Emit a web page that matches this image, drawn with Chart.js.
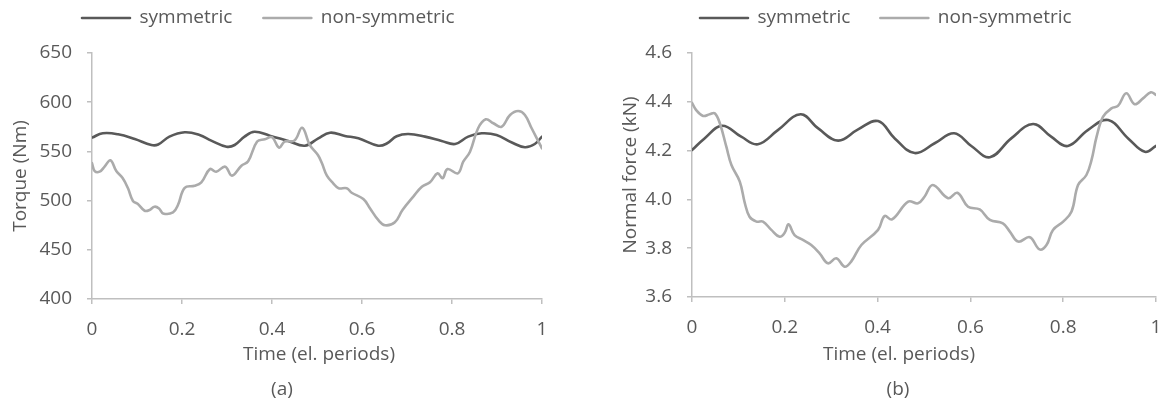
<!DOCTYPE html>
<html>
<head>
<meta charset="utf-8">
<script src="https://cdn.jsdelivr.net/npm/chart.js@4.4.1/dist/chart.umd.min.js"></script>
<style>
  html, body { margin: 0; padding: 0; background: #ffffff; }
  #figure { position: relative; width: 1163px; height: 403px; overflow: hidden; }
  #figure canvas { position: absolute; top: 0; }
  .cap {
    position: absolute; width: 240px; text-align: center;
    font-family: "Open Sans", sans-serif; font-size: 19px; line-height: 22px;
    color: #595959; white-space: nowrap;
  }
</style>
</head>
<body>
<div id="figure">
  <canvas id="torqueChart" width="580" height="403" style="left:0px"></canvas>
  <canvas id="forceChart" width="583" height="403" style="left:580px"></canvas>
  <div class="cap" style="left:199px; top:342px">Time (el. periods)</div>
  <div class="cap" style="left:162px; top:377px">(a)</div>
  <div class="cap" style="left:779px; top:342px">Time (el. periods)</div>
  <div class="cap" style="left:778px; top:377px">(b)</div>
</div>
<script>
// ---- tick values ----
const timeTicks = [0, 0.2, 0.4, 0.6, 0.8, 1];
const torqueTicks = [400, 450, 500, 550, 600, 650];
const forceTicks = [3.6, 3.8, 4.0, 4.2, 4.4, 4.6];
const seriesNames = ['symmetric', 'non-symmetric'];

// ---- torque, symmetric winding ----
const torqueSymT = [0, 0.024, 0.058, 0.095, 0.132, 0.147, 0.172, 0.206, 0.239, 0.265, 0.299, 0.317,
  0.339, 0.361, 0.395, 0.436, 0.473, 0.502, 0.529, 0.562, 0.592, 0.636, 0.655, 0.677, 0.703, 0.740,
  0.777, 0.807, 0.836, 0.866, 0.899, 0.933, 0.962, 0.984, 1.0];
const torqueSym = [564, 568.4, 567.4, 562.6, 556.5, 557, 565, 569.4, 566.7, 561, 554.8, 556.5,
  565, 570, 566, 560.6, 555.8, 563, 569, 565.7, 563.3, 555.8, 558, 565.4, 567.7, 565,
  560.6, 557.5, 565, 568.4, 566.7, 559, 554.2, 557.5, 565];

// ---- torque, non-symmetric winding ----
const torqueAsymT = [0, 0.006, 0.017, 0.028, 0.041, 0.054, 0.068, 0.080, 0.091, 0.102, 0.117, 0.128,
  0.139, 0.149, 0.158, 0.180, 0.191, 0.206, 0.228, 0.243, 0.262, 0.276, 0.296, 0.311, 0.332, 0.347,
  0.367, 0.384, 0.400, 0.416, 0.428, 0.450, 0.467, 0.484, 0.502, 0.511, 0.522, 0.536, 0.548, 0.566,
  0.577, 0.603, 0.618, 0.636, 0.651, 0.673, 0.690, 0.714, 0.733, 0.751, 0.768, 0.779, 0.790, 0.813,
  0.825, 0.840, 0.858, 0.875, 0.892, 0.910, 0.929, 0.947, 0.962, 0.977, 1.0];
const torqueAsym = [538, 530, 529.4, 534.5, 541, 530, 523, 512.5, 499.6, 496.5, 489.7, 490.5,
  493.8, 492, 487, 488, 495.5, 513, 515, 518.6, 532, 529.4, 534.5, 525.4, 535.5, 540,
  560, 562.3, 564.4, 553.8, 560, 561, 574, 556.5, 546.3, 538, 525.3, 517.6, 512.5, 512.5,
  508, 501.6, 492, 480.3, 475, 478, 490.4, 504, 514, 518.6, 527.7, 522.7, 532, 527.7,
  539.5, 549.7, 573.5, 582.6, 578.6, 575, 587, 591, 587, 573.5, 553];

// ---- normal force, symmetric winding ----
const forceSymT = [0, 0.027, 0.065, 0.106, 0.142, 0.185, 0.234, 0.272, 0.315, 0.358, 0.401, 0.437,
  0.480, 0.523, 0.565, 0.602, 0.642, 0.688, 0.735, 0.774, 0.810, 0.853, 0.897, 0.940, 0.976, 1.0];
const forceSym = [4.202, 4.250, 4.302, 4.257, 4.226, 4.284, 4.349, 4.291, 4.241, 4.287, 4.321, 4.250,
  4.190, 4.230, 4.271, 4.219, 4.173, 4.250, 4.309, 4.257, 4.219, 4.284, 4.325, 4.250, 4.195, 4.219];

// ---- normal force, non-symmetric winding ----
const forceAsymT = [0, 0.009, 0.024, 0.038, 0.049, 0.060, 0.074, 0.085, 0.103, 0.114, 0.124, 0.139,
  0.153, 0.171, 0.189, 0.200, 0.208, 0.221, 0.239, 0.257, 0.275, 0.293, 0.311, 0.329, 0.343, 0.365,
  0.401, 0.415, 0.431, 0.466, 0.487, 0.501, 0.519, 0.552, 0.572, 0.595, 0.620, 0.642, 0.670, 0.685,
  0.703, 0.728, 0.749, 0.764, 0.778, 0.800, 0.818, 0.832, 0.850, 0.861, 0.872, 0.886, 0.904, 0.918,
  0.936, 0.954, 0.972, 0.989, 1.0];
const forceAsym = [4.396, 4.366, 4.342, 4.349, 4.353, 4.312, 4.216, 4.141, 4.073, 3.984, 3.929, 3.909,
  3.909, 3.875, 3.847, 3.864, 3.898, 3.854, 3.834, 3.813, 3.779, 3.738, 3.759, 3.724, 3.745, 3.813,
  3.875, 3.932, 3.918, 3.991, 3.984, 4.011, 4.059, 4.005, 4.027, 3.970, 3.959, 3.916, 3.902, 3.868,
  3.827, 3.845, 3.795, 3.813, 3.875, 3.909, 3.950, 4.059, 4.100, 4.161, 4.257, 4.339, 4.373, 4.383,
  4.435, 4.390, 4.414, 4.439, 4.428];

// ---- styling ----
const FONT = { family: '"Open Sans", sans-serif', size: 19 };
const TEXT = '#595959';
const AXIS = '#BFBFBF';
const DARK = '#595959';
const LIGHT = '#ABABAB';

const toPoints = (xs, ys) => xs.map((x, i) => ({ x, y: ys[i] }));

// Places the legend row at a fixed spot above the plot.
const legendPlacer = {
  id: 'legendPlacer',
  afterLayout(chart, args, opts) {
    const lg = chart.legend;
    if (!lg) return;
    const dx = opts.x - opts.gap - lg.left;
    lg.left += dx; lg.right += dx;
    lg.top = opts.y - opts.fontSize / 2 - opts.gap;
    lg.bottom = opts.y + opts.fontSize + 10;
    lg.height = lg.bottom - lg.top;
  }
};

function lineDataset(label, pts, color, order) {
  return {
    label, data: pts, order,
    borderColor: color, backgroundColor: color,
    borderWidth: 2.6, pointRadius: 0, pointHoverRadius: 0,
    tension: 0.4, borderCapStyle: 'round', borderJoinStyle: 'round', fill: false
  };
}

function buildChart(id, cfg) {
  return new Chart(document.getElementById(id), {
    type: 'line',
    data: {
      datasets: [
        lineDataset(seriesNames[0], cfg.sym, DARK, 1),
        lineDataset(seriesNames[1], cfg.asym, LIGHT, 0)
      ]
    },
    options: {
      responsive: false,
      animation: false,
      events: [],
      layout: { padding: { left: 0, top: 13, right: cfg.padRight, bottom: 0 } },
      plugins: {
        tooltip: { enabled: false },
        legend: {
          display: true, position: 'top', align: 'start', maxHeight: 40,
          labels: {
            font: FONT, color: TEXT, boxWidth: 48, boxHeight: 0, padding: cfg.legendGap,
            sort: (a, b) => a.datasetIndex - b.datasetIndex
          }
        },
        legendPlacer: { x: cfg.legendX, y: 18, gap: cfg.legendGap, fontSize: FONT.size }
      },
      scales: {
        x: {
          type: 'linear', min: 0, max: 1,
          afterBuildTicks: s => { s.ticks = timeTicks.map(v => ({ value: v })); },
          afterFit: s => { s.height = cfg.xHeight; s.paddingLeft = 0; s.paddingRight = 0; },
          ticks: { font: FONT, color: TEXT, padding: 14, maxRotation: 0, callback: v => String(v) },
          grid: { display: true, drawOnChartArea: false, drawTicks: true, tickLength: 5, color: AXIS, lineWidth: 1.5 },
          border: { display: true, color: AXIS, width: 1.5 }
        },
        y: {
          type: 'linear', min: cfg.yTicks[0], max: cfg.yTicks[cfg.yTicks.length - 1],
          afterBuildTicks: s => { s.ticks = cfg.yTicks.map(v => ({ value: v })); },
          afterFit: s => { s.width = cfg.yWidth; },
          ticks: { font: FONT, color: TEXT, padding: 15, callback: cfg.yFmt },
          grid: { display: true, drawOnChartArea: false, drawTicks: true, tickLength: 5, color: AXIS, lineWidth: 1.5 },
          border: { display: true, color: AXIS, width: 1.5 },
          title: { display: true, text: cfg.yTitle, font: FONT, color: TEXT, padding: { top: cfg.yTitlePad, bottom: 0 } }
        }
      }
    },
    plugins: [legendPlacer]
  });
}

buildChart('torqueChart', {
  sym: toPoints(torqueSymT, torqueSym),
  asym: toPoints(torqueAsymT, torqueAsym),
  yTicks: torqueTicks, yFmt: v => String(v), yTitle: 'Torque (Nm)',
  yWidth: 92, yTitlePad: 9, xHeight: 104, padRight: 38,
  legendX: 82, legendGap: 31
});

buildChart('forceChart', {
  sym: toPoints(forceSymT, forceSym),
  asym: toPoints(forceAsymT, forceAsym),
  yTicks: forceTicks, yFmt: v => Number(v).toFixed(1), yTitle: 'Normal force (kN)',
  yWidth: 112, yTitlePad: 39, xHeight: 106, padRight: 7,
  legendX: 120, legendGap: 30
});
</script>
</body>
</html>
